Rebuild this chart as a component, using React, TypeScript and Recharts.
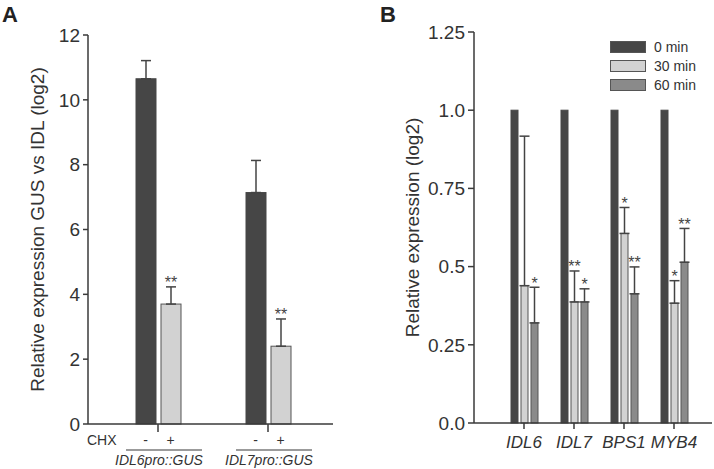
import React from 'react';
import { BarChart, Bar, XAxis, YAxis, ErrorBar, Legend, Label } from 'recharts';

const FONT = '"Liberation Sans", Arial, Helvetica, sans-serif';

// ---- Panel A data ----
const groupsA = ['IDL6pro::GUS', 'IDL7pro::GUS'];
const chxMinus = [10.65, 7.14];
const chxMinusErr = [0.56, 0.99];
const chxPlus = [3.7, 2.4];
const chxPlusErr = [0.53, 0.84];
const chxPlusSig = ['**', '**'];
const chxLabels = ['-', '+'];
const yTicksA = [0, 2, 4, 6, 8, 10, 12];

// ---- Panel B data ----
const genesB = ['IDL6', 'IDL7', 'BPS1', 'MYB4'];
const seriesNamesB = ['0 min', '30 min', '60 min'];
const min0 = [1, 1, 1, 1];
const min30 = [0.439, 0.387, 0.606, 0.383];
const min30Err = [0.478, 0.099, 0.083, 0.072];
const min30Sig = ['', '**', '*', '*'];
const min60 = [0.32, 0.387, 0.413, 0.514];
const min60Err = [0.114, 0.042, 0.086, 0.108];
const min60Sig = ['*', '*', '**', '**'];
const yTicksB = [0, 0.25, 0.5, 0.75, 1.0, 1.25];
const yTickLabelsB = ['0.0', '0.25', '0.5', '0.75', '1.0', '1.25'];

const DARK = '#464646';
const LIGHT = '#d2d2d2';
const MID = '#8a8a8a';
const EDGE = '#555555';
const TEXT = '#333333';
const AXIS = '#3a3a3a';
const FRAME = '#7a7a7a';

const dataA = groupsA.map((g, i) => ({
  group: g,
  minus: chxMinus[i],
  minusErr: [0, chxMinusErr[i]],
  minusSig: '',
  plus: chxPlus[i],
  plusErr: [0, chxPlusErr[i]],
  plusSig: chxPlusSig[i],
}));

const dataB = genesB.map((g, i) => ({
  gene: g,
  m0: min0[i],
  m0Err: [0, 0],
  m0Sig: '',
  m30: min30[i],
  m30Err: [0, min30Err[i]],
  m30Sig: min30Sig[i],
  m60: min60[i],
  m60Err: [0, min60Err[i]],
  m60Sig: min60Sig[i],
}));

const makeShape = (valueKey: string, errKey: string, sigKey: string, fill: string, stroke: string) =>
  (props: any) => {
    const { x, y, width, height, payload } = props;
    const v = payload[valueKey];
    const errArr = payload[errKey];
    const e = Array.isArray(errArr) ? errArr[1] : 0;
    const sig = payload[sigKey];
    const ppu = v ? height / v : 0;
    const topY = y - e * ppu;
    return (
      <g>
        <rect x={x} y={y} width={width} height={height} fill={fill} stroke={stroke} strokeWidth={1} />
        {sig ? (
          <text x={x + width / 2} y={topY + 1.5} textAnchor="middle" fontSize={16} fill="#444" fontFamily={FONT}>
            {sig}
          </text>
        ) : null}
      </g>
    );
  };

const TickA = (props: any) => {
  const { x, y, payload, index } = props;
  return (
    <g fontFamily={FONT} fill={TEXT}>
      {index === 0 ? (
        <text x={x - 71} y={y + 13} fontSize={14} fill={TEXT}>CHX</text>
      ) : null}
      <text x={x - 12.5} y={y + 13} textAnchor="middle" fontSize={14} fill={TEXT}>{chxLabels[0]}</text>
      <text x={x + 12.5} y={y + 13} textAnchor="middle" fontSize={14} fill={TEXT}>{chxLabels[1]}</text>
      <line x1={x - 32} x2={x + 44} y1={y + 18} y2={y + 18} stroke={FRAME} strokeWidth={1.5} />
      <text x={x + 1} y={y + 33} textAnchor="middle" fontStyle="italic" fontSize={14} fill={TEXT}>
        {payload.value}
      </text>
    </g>
  );
};

const TickB = (props: any) => {
  const { x, y, payload } = props;
  return (
    <text x={x} y={y + 19} textAnchor="middle" fontStyle="italic" fontSize={17} fill={TEXT} fontFamily={FONT}>
      {payload.value}
    </text>
  );
};

const LegendB = (props: any) => {
  const { payload } = props;
  return (
    <div style={{ fontFamily: FONT, fontSize: 14, color: TEXT }}>
      {(payload || []).map((entry: any, i: number) => (
        <div key={i} style={{ display: 'flex', alignItems: 'center', height: 18.7 }}>
          <span
            style={{
              display: 'inline-block',
              width: 36,
              height: 12,
              background: entry.color,
              border: `1px solid ${EDGE}`,
              boxSizing: 'border-box',
              marginRight: 8,
            }}
          />
          <span>{entry.value}</span>
        </div>
      ))}
    </div>
  );
};

export default function App() {
  return (
    <div style={{ position: 'absolute', left: 0, top: 0, width: 714, height: 469, background: '#fff', fontFamily: FONT }}>
      <div style={{ position: 'absolute', left: 0, top: 0 }}>
        <BarChart width={360} height={469} data={dataA} margin={{ top: 35, right: 27, left: 0, bottom: 0 }} barSize={20} barGap={5}>
          <XAxis
            dataKey="group"
            height={45}
            padding={{ left: 15, right: 10 }}
            axisLine={{ stroke: AXIS, strokeWidth: 1.5 }}
            tickLine={{ stroke: AXIS, strokeWidth: 1.5 }}
            tickSize={8}
            tickMargin={0}
            tick={<TickA />}
            interval={0}
          />
          <XAxis xAxisId="top" orientation="top" dataKey="group" height={0} tick={false} tickLine={false} axisLine={{ stroke: FRAME, strokeWidth: 2 }} />
          <YAxis
            width={88}
            domain={[0, 12]}
            ticks={yTicksA}
            interval={0}
            axisLine={{ stroke: AXIS, strokeWidth: 1.5 }}
            tickLine={{ stroke: AXIS, strokeWidth: 1.5 }}
            tickSize={5}
            tickMargin={3}
            tick={{ fontSize: 19, fill: TEXT, fontFamily: FONT }}
          >
            <Label
              value="Relative expression GUS vs IDL (log2)"
              angle={-90}
              position="center"
              dx={-7}
              style={{ fontSize: 19, fill: TEXT, fontFamily: FONT, textAnchor: 'middle' }}
            />
          </YAxis>
          <YAxis yAxisId="right" orientation="right" width={0} domain={[0, 12]} tick={false} tickLine={false} axisLine={{ stroke: FRAME, strokeWidth: 2 }} />
          <Bar dataKey="minus" fill={DARK} isAnimationActive={false} shape={makeShape('minus', 'minusErr', 'minusSig', DARK, DARK)}>
            <ErrorBar dataKey="minusErr" width={5} stroke="#444" strokeWidth={1.5} />
          </Bar>
          <Bar dataKey="plus" fill={LIGHT} isAnimationActive={false} shape={makeShape('plus', 'plusErr', 'plusSig', LIGHT, EDGE)}>
            <ErrorBar dataKey="plusErr" width={5} stroke="#444" strokeWidth={1.5} />
          </Bar>
        </BarChart>
      </div>
      <div style={{ position: 'absolute', left: 360, top: 0 }}>
        <BarChart width={354} height={469} data={dataB} margin={{ top: 32, right: 2, left: 0, bottom: 0 }} barSize={7} barGap={3}>
          <XAxis
            dataKey="gene"
            height={46}
            padding={{ left: 25, right: 13 }}
            axisLine={{ stroke: AXIS, strokeWidth: 1.5 }}
            tickLine={{ stroke: AXIS, strokeWidth: 1.5 }}
            tickSize={6}
            tickMargin={0}
            tick={<TickB />}
            interval={0}
          />
          <XAxis xAxisId="top" orientation="top" dataKey="gene" height={0} tick={false} tickLine={false} axisLine={{ stroke: FRAME, strokeWidth: 2 }} />
          <YAxis
            width={114}
            domain={[0, 1.25]}
            ticks={yTicksB}
            interval={0}
            axisLine={{ stroke: AXIS, strokeWidth: 1.5 }}
            tickLine={{ stroke: AXIS, strokeWidth: 1.5 }}
            tickSize={6}
            tickMargin={3}
            tickFormatter={(v: number) => yTickLabelsB[yTicksB.indexOf(v)] ?? String(v)}
            tick={{ fontSize: 19, fill: TEXT, fontFamily: FONT }}
          >
            <Label
              value="Relative expression (log2)"
              angle={-90}
              position="center"
              dx={-5}
              style={{ fontSize: 19, fill: TEXT, fontFamily: FONT, textAnchor: 'middle' }}
            />
          </YAxis>
          <YAxis yAxisId="right" orientation="right" width={0} domain={[0, 1.25]} tick={false} tickLine={false} axisLine={{ stroke: FRAME, strokeWidth: 2 }} />
          <Legend
            layout="vertical"
            align="center"
            verticalAlign="middle"
            wrapperStyle={{ left: 250, top: 38, width: 110 }}
            content={<LegendB />}
          />
          <Bar dataKey="m0" name={seriesNamesB[0]} fill={DARK} isAnimationActive={false} shape={makeShape('m0', 'm0Err', 'm0Sig', DARK, DARK)} />
          <Bar dataKey="m30" name={seriesNamesB[1]} fill={LIGHT} isAnimationActive={false} shape={makeShape('m30', 'm30Err', 'm30Sig', LIGHT, EDGE)}>
            <ErrorBar dataKey="m30Err" width={5} stroke="#444" strokeWidth={1.5} />
          </Bar>
          <Bar dataKey="m60" name={seriesNamesB[2]} fill={MID} isAnimationActive={false} shape={makeShape('m60', 'm60Err', 'm60Sig', MID, EDGE)}>
            <ErrorBar dataKey="m60Err" width={5} stroke="#444" strokeWidth={1.5} />
          </Bar>
        </BarChart>
      </div>
      <svg style={{ position: 'absolute', left: 0, top: 0, pointerEvents: 'none' }} width={714} height={469}>
        <text x={2} y={22} fontSize={22} fontWeight="bold" fill="#222" fontFamily={FONT}>A</text>
        <text x={380} y={22} fontSize={22} fontWeight="bold" fill="#222" fontFamily={FONT}>B</text>
      </svg>
    </div>
  );
}
